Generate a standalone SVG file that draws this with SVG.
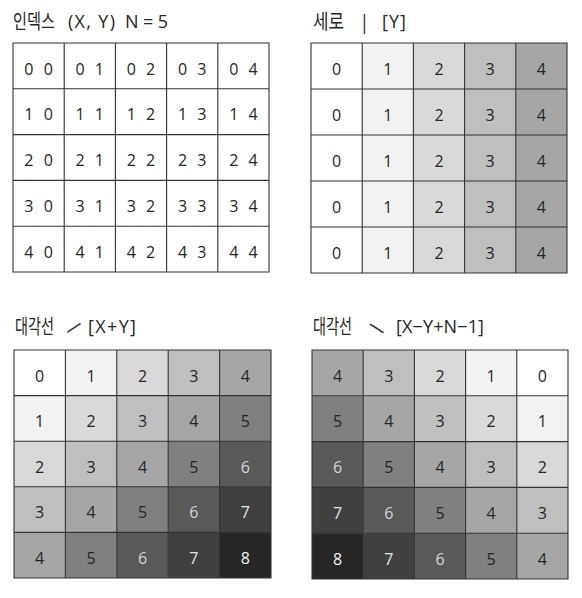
<svg xmlns="http://www.w3.org/2000/svg" width="582" height="598" viewBox="0 0 582 598">
<style>
text{font-family:"Open Sans","Noto Sans CJK KR","DejaVu Sans",sans-serif}
.ko{font-family:"Noto Sans CJK KR",sans-serif;font-size:20px;fill:#262626}
.la{font-size:18px;fill:#262626}
.bar{font-family:"Noto Sans CJK KR",sans-serif;font-size:18px;fill:#1a1a1a}
.sl{font-size:21px;fill:#333333;text-anchor:middle;dominant-baseline:central}
.n{font-size:16px;fill:#262626;text-anchor:middle}
.ix{letter-spacing:3px}
.l6{fill:#d2d6da}.l7{fill:#e2e4e6}.l8{fill:#f5f5f5}
.grid{fill:none;stroke:#333333;stroke-width:1.1}
.v0{fill:#ffffff}.v1{fill:#f2f2f2}.v2{fill:#d9d9d9}.v3{fill:#bfbfbf}.v4{fill:#a6a6a6}
.v5{fill:#808080}.v6{fill:#595959}.v7{fill:#404040}.v8{fill:#262626}
</style>
<rect width="582" height="598" fill="#ffffff"/>

<g id="grid-index">
<g id="title-index">
<text class="ko" x="13" y="28.5" textLength="42" lengthAdjust="spacingAndGlyphs">인덱스</text>
<text class="la" x="68" y="28" textLength="47">(X, Y)</text>
<text class="la" x="125" y="28" textLength="43">N = 5</text>
</g>
<rect class="v0" x="13" y="43" width="256" height="229"/>
<path class="grid" d="M13 43H269V272H13Z M64.2 43V272 M115.4 43V272 M166.6 43V272 M217.8 43V272 M13 88.8H269 M13 134.6H269 M13 180.4H269 M13 226.2H269"/>
<g class="n ix">
<text x="40.1" y="74.5">0 0</text><text x="91.3" y="74.5">0 1</text><text x="142.5" y="74.5">0 2</text><text x="193.7" y="74.5">0 3</text><text x="244.9" y="74.5">0 4</text>
<text x="40.1" y="120.3">1 0</text><text x="91.3" y="120.3">1 1</text><text x="142.5" y="120.3">1 2</text><text x="193.7" y="120.3">1 3</text><text x="244.9" y="120.3">1 4</text>
<text x="40.1" y="166.1">2 0</text><text x="91.3" y="166.1">2 1</text><text x="142.5" y="166.1">2 2</text><text x="193.7" y="166.1">2 3</text><text x="244.9" y="166.1">2 4</text>
<text x="40.1" y="211.9">3 0</text><text x="91.3" y="211.9">3 1</text><text x="142.5" y="211.9">3 2</text><text x="193.7" y="211.9">3 3</text><text x="244.9" y="211.9">3 4</text>
<text x="40.1" y="257.7">4 0</text><text x="91.3" y="257.7">4 1</text><text x="142.5" y="257.7">4 2</text><text x="193.7" y="257.7">4 3</text><text x="244.9" y="257.7">4 4</text>
</g>
</g>

<g id="grid-column">
<g id="title-column">
<text class="ko" x="313" y="28.5" textLength="31" lengthAdjust="spacingAndGlyphs">세로</text>
<text class="bar" x="362" y="29">|</text>
<text class="la" x="382" y="28" textLength="24">[Y]</text>
</g>
<rect class="v0" x="311" y="43" width="51.2" height="230"/>
<rect class="v1" x="362.2" y="43" width="51.2" height="230"/>
<rect class="v2" x="413.4" y="43" width="51.2" height="230"/>
<rect class="v3" x="464.6" y="43" width="51.2" height="230"/>
<rect class="v4" x="515.8" y="43" width="51.2" height="230"/>
<path class="grid" d="M311 43H567V273H311Z M362.2 43V273 M413.4 43V273 M464.6 43V273 M515.8 43V273 M311 89H567 M311 135H567 M311 181H567 M311 227H567"/>
<g class="n">
<text x="336.6" y="74.5">0</text><text x="387.8" y="74.5">1</text><text x="439" y="74.5">2</text><text x="490.2" y="74.5">3</text><text x="541.4" y="74.5">4</text>
<text x="336.6" y="120.5">0</text><text x="387.8" y="120.5">1</text><text x="439" y="120.5">2</text><text x="490.2" y="120.5">3</text><text x="541.4" y="120.5">4</text>
<text x="336.6" y="166.5">0</text><text x="387.8" y="166.5">1</text><text x="439" y="166.5">2</text><text x="490.2" y="166.5">3</text><text x="541.4" y="166.5">4</text>
<text x="336.6" y="212.5">0</text><text x="387.8" y="212.5">1</text><text x="439" y="212.5">2</text><text x="490.2" y="212.5">3</text><text x="541.4" y="212.5">4</text>
<text x="336.6" y="258.5">0</text><text x="387.8" y="258.5">1</text><text x="439" y="258.5">2</text><text x="490.2" y="258.5">3</text><text x="541.4" y="258.5">4</text>
</g>
</g>

<g id="grid-diagonal-sum">
<g id="title-diagonal-sum">
<text class="ko" x="15" y="334" textLength="39" lengthAdjust="spacingAndGlyphs">대각선</text>
<text class="sl" transform="translate(74 327.5) rotate(36)">/</text>
<text class="la" x="88" y="333" textLength="48">[X+Y]</text>
</g>
<rect class="v0" x="14" y="350" width="51.4" height="45.6"/><rect class="v1" x="65.4" y="350" width="51.4" height="45.6"/><rect class="v2" x="116.8" y="350" width="51.4" height="45.6"/><rect class="v3" x="168.2" y="350" width="51.4" height="45.6"/><rect class="v4" x="219.6" y="350" width="51.4" height="45.6"/>
<rect class="v1" x="14" y="395.6" width="51.4" height="45.6"/><rect class="v2" x="65.4" y="395.6" width="51.4" height="45.6"/><rect class="v3" x="116.8" y="395.6" width="51.4" height="45.6"/><rect class="v4" x="168.2" y="395.6" width="51.4" height="45.6"/><rect class="v5" x="219.6" y="395.6" width="51.4" height="45.6"/>
<rect class="v2" x="14" y="441.2" width="51.4" height="45.6"/><rect class="v3" x="65.4" y="441.2" width="51.4" height="45.6"/><rect class="v4" x="116.8" y="441.2" width="51.4" height="45.6"/><rect class="v5" x="168.2" y="441.2" width="51.4" height="45.6"/><rect class="v6" x="219.6" y="441.2" width="51.4" height="45.6"/>
<rect class="v3" x="14" y="486.8" width="51.4" height="45.6"/><rect class="v4" x="65.4" y="486.8" width="51.4" height="45.6"/><rect class="v5" x="116.8" y="486.8" width="51.4" height="45.6"/><rect class="v6" x="168.2" y="486.8" width="51.4" height="45.6"/><rect class="v7" x="219.6" y="486.8" width="51.4" height="45.6"/>
<rect class="v4" x="14" y="532.4" width="51.4" height="45.6"/><rect class="v5" x="65.4" y="532.4" width="51.4" height="45.6"/><rect class="v6" x="116.8" y="532.4" width="51.4" height="45.6"/><rect class="v7" x="168.2" y="532.4" width="51.4" height="45.6"/><rect class="v8" x="219.6" y="532.4" width="51.4" height="45.6"/>
<path class="grid" d="M14 350H271V578H14Z M65.4 350V578 M116.8 350V578 M168.2 350V578 M219.6 350V578 M14 395.6H271 M14 441.2H271 M14 486.8H271 M14 532.4H271"/>
<g class="n">
<text x="39.7" y="381.5">0</text><text x="91.1" y="381.5">1</text><text x="142.5" y="381.5">2</text><text x="193.9" y="381.5">3</text><text x="245.3" y="381.5">4</text>
<text x="39.7" y="427.1">1</text><text x="91.1" y="427.1">2</text><text x="142.5" y="427.1">3</text><text x="193.9" y="427.1">4</text><text x="245.3" y="427.1">5</text>
<text x="39.7" y="472.7">2</text><text x="91.1" y="472.7">3</text><text x="142.5" y="472.7">4</text><text x="193.9" y="472.7">5</text><text class="l6" x="245.3" y="472.7">6</text>
<text x="39.7" y="518.3">3</text><text x="91.1" y="518.3">4</text><text x="142.5" y="518.3">5</text><text class="l6" x="193.9" y="518.3">6</text><text class="l7" x="245.3" y="518.3">7</text>
<text x="39.7" y="563.9">4</text><text x="91.1" y="563.9">5</text><text class="l6" x="142.5" y="563.9">6</text><text class="l7" x="193.9" y="563.9">7</text><text class="l8" x="245.3" y="563.9">8</text>
</g>
</g>

<g id="grid-diagonal-diff">
<g id="title-diagonal-diff">
<text class="ko" x="313" y="334" textLength="39" lengthAdjust="spacingAndGlyphs">대각선</text>
<text class="sl" transform="translate(376.5 328) rotate(-36)">\</text>
<text class="la" x="396" y="333" textLength="88">[X−Y+N−1]</text>
</g>
<rect class="v4" x="312" y="350" width="51.2" height="45.8"/><rect class="v3" x="363.2" y="350" width="51.2" height="45.8"/><rect class="v2" x="414.4" y="350" width="51.2" height="45.8"/><rect class="v1" x="465.6" y="350" width="51.2" height="45.8"/><rect class="v0" x="516.8" y="350" width="51.2" height="45.8"/>
<rect class="v5" x="312" y="395.8" width="51.2" height="45.8"/><rect class="v4" x="363.2" y="395.8" width="51.2" height="45.8"/><rect class="v3" x="414.4" y="395.8" width="51.2" height="45.8"/><rect class="v2" x="465.6" y="395.8" width="51.2" height="45.8"/><rect class="v1" x="516.8" y="395.8" width="51.2" height="45.8"/>
<rect class="v6" x="312" y="441.6" width="51.2" height="45.8"/><rect class="v5" x="363.2" y="441.6" width="51.2" height="45.8"/><rect class="v4" x="414.4" y="441.6" width="51.2" height="45.8"/><rect class="v3" x="465.6" y="441.6" width="51.2" height="45.8"/><rect class="v2" x="516.8" y="441.6" width="51.2" height="45.8"/>
<rect class="v7" x="312" y="487.4" width="51.2" height="45.8"/><rect class="v6" x="363.2" y="487.4" width="51.2" height="45.8"/><rect class="v5" x="414.4" y="487.4" width="51.2" height="45.8"/><rect class="v4" x="465.6" y="487.4" width="51.2" height="45.8"/><rect class="v3" x="516.8" y="487.4" width="51.2" height="45.8"/>
<rect class="v8" x="312" y="533.2" width="51.2" height="45.8"/><rect class="v7" x="363.2" y="533.2" width="51.2" height="45.8"/><rect class="v6" x="414.4" y="533.2" width="51.2" height="45.8"/><rect class="v5" x="465.6" y="533.2" width="51.2" height="45.8"/><rect class="v4" x="516.8" y="533.2" width="51.2" height="45.8"/>
<path class="grid" d="M312 350H568V579H312Z M363.2 350V579 M414.4 350V579 M465.6 350V579 M516.8 350V579 M312 395.8H568 M312 441.6H568 M312 487.4H568 M312 533.2H568"/>
<g class="n">
<text x="337.6" y="381.5">4</text><text x="388.8" y="381.5">3</text><text x="440" y="381.5">2</text><text x="491.2" y="381.5">1</text><text x="542.4" y="381.5">0</text>
<text x="337.6" y="427.3">5</text><text x="388.8" y="427.3">4</text><text x="440" y="427.3">3</text><text x="491.2" y="427.3">2</text><text x="542.4" y="427.3">1</text>
<text class="l6" x="337.6" y="473.1">6</text><text x="388.8" y="473.1">5</text><text x="440" y="473.1">4</text><text x="491.2" y="473.1">3</text><text x="542.4" y="473.1">2</text>
<text class="l7" x="337.6" y="518.9">7</text><text class="l6" x="388.8" y="518.9">6</text><text x="440" y="518.9">5</text><text x="491.2" y="518.9">4</text><text x="542.4" y="518.9">3</text>
<text class="l8" x="337.6" y="564.7">8</text><text class="l7" x="388.8" y="564.7">7</text><text class="l6" x="440" y="564.7">6</text><text x="491.2" y="564.7">5</text><text x="542.4" y="564.7">4</text>
</g>
</g>
</svg>
